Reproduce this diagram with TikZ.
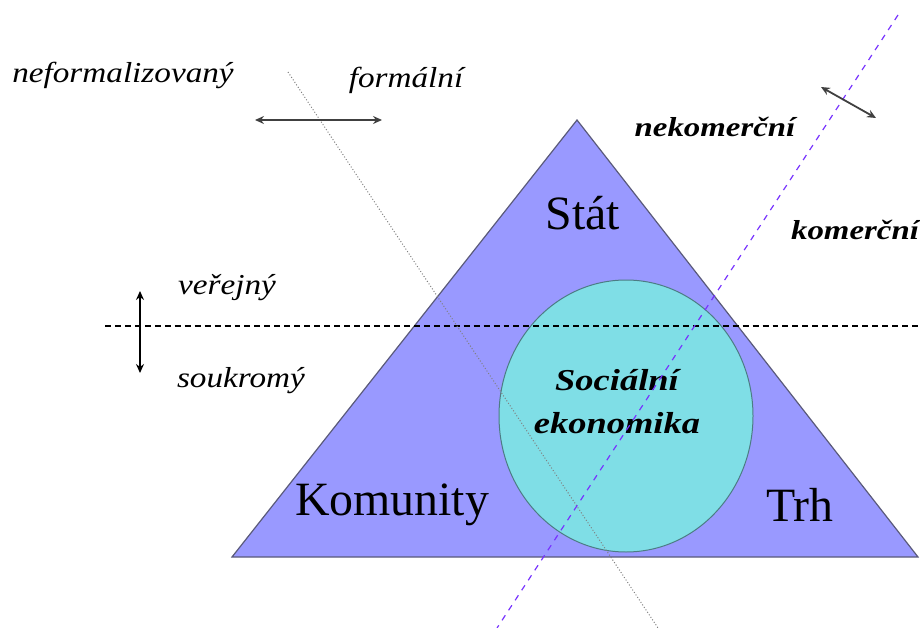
\documentclass[tikz,border=0pt]{standalone}
\usepackage{fontspec}
\usepackage{graphicx}
\setmainfont{Liberation Serif}
\usetikzlibrary{arrows.meta, positioning}
\definecolor{trifill}{HTML}{9999FF}
\definecolor{triedge}{HTML}{5A5A7A}
\definecolor{ellfill}{HTML}{7FDEE6}
\definecolor{elledge}{HTML}{4C7C84}
\definecolor{violetline}{HTML}{7733FF}
\newcommand{\axislabel}[1]{\scalebox{1.15}[1]{\itshape #1}}
\newcommand{\boldlabel}[1]{\scalebox{1.2}[1]{\bfseries\itshape #1}}

\begin{document}
\begin{tikzpicture}[x=1bp, y=-1bp,
    axis/.style={font=\fontsize{29}{32}\selectfont},
    bold axis/.style={font=\fontsize{27.5}{32}\selectfont},
    sector/.style={font=\fontsize{48}{50}\selectfont},
    twoway/.style={{Stealth[length=9pt,width=8pt]}-{Stealth[length=9pt,width=8pt]}}]
    \useasboundingbox (0,0) rectangle (920,628);

    % Triangle
    \coordinate (apex) at (577,120);
    \coordinate (baseL) at (232,557);
    \coordinate (baseR) at (918,557);
    \draw[triedge, fill=trifill, line width=1.2pt] (apex) -- (baseR) -- (baseL) -- cycle;
    \node[sector] (stat) at (583,213) {Stát};
    \node[sector] (komunity) at (392,505) {Komunity};
    \node[sector] (trh) at (800,505) {Trh};

    % Social economy
    \draw[elledge, fill=ellfill, line width=1pt] (626,416) ellipse (127 and 136);
    \node[align=center, font=\fontsize{30.5}{43}\selectfont] (soc) at (617,402)
        {\boldlabel{Sociální}\\ \boldlabel{ekonomika}};

    % Dividing lines
    \coordinate (pubL) at (105,326);
    \coordinate (pubR) at (918,326);
    \draw[dashed, line width=1.2pt, dash pattern=on 6pt off 4pt] (pubL) -- (pubR);
    \coordinate (formT) at (288,72);
    \coordinate (formB) at (658,628);
    \draw[gray, dotted, line width=1pt] (formT) -- (formB);
    \coordinate (komT) at (898,15);
    \coordinate (komB) at (497,628);
    \draw[violetline, dashed, line width=1.2pt, dash pattern=on 6pt off 6pt] (komT) -- (komB);

    % Arrows
    \coordinate (vu) at (140,291);
    \coordinate (vd) at (140,373);
    \draw[twoway, line width=3pt] (vu) -- (vd);
    \coordinate (hl) at (255,120);
    \coordinate (hr) at (382,120);
    \draw[twoway, line width=1.8pt, black!75] (hl) -- (hr);
    \coordinate (dl) at (821,87);
    \coordinate (dr) at (876,118);
    \draw[twoway, line width=1.8pt, black!75] (dl) -- (dr);

    % Labels
    \node[axis] (neform) at (123,75) {\axislabel{neformalizovaný}};
    \node[axis] (form) at (406,80) {\axislabel{formální}};
    \node[axis] (verej) at (227,288) {\axislabel{veřejný}};
    \node[axis] (soukr) at (241,381) {\axislabel{soukromý}};
    \node[bold axis] (nekom) at (715,127) {\boldlabel{nekomerční}};
    \node[bold axis] (kom) at (855,230) {\boldlabel{komerční}};
\end{tikzpicture}
\end{document}
